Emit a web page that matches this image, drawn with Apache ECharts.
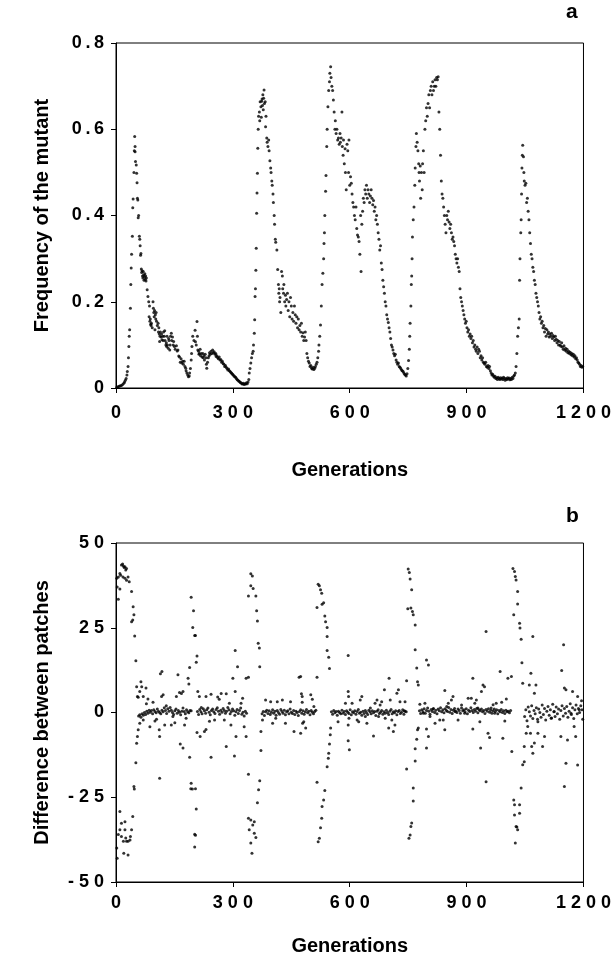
<!DOCTYPE html>
<html>
<head>
<meta charset="utf-8">
<title>Frequency of the mutant / Difference between patches</title>
<script src="https://cdn.jsdelivr.net/npm/echarts@6/dist/echarts.min.js"></script>
<style>
  html, body { margin: 0; padding: 0; background: #fff; }
  #chart { width: 614px; height: 963px; }
</style>
</head>
<body>
<div id="chart"></div>
<script>
var genTicks = [0, 300, 600, 900, 1200];
var freqTicks = [0, 0.2, 0.4, 0.6, 0.8];
var diffTicks = [-50, -25, 0, 25, 50];

// panel a: [generation, frequency]
var freqPoints = [
  [2,0.002],[5,0.003],[8,0.004],[11,0.005],[14,0.006],[17,0.008],[20,0.011],[22,0.014],[24,0.018],[26,0.022],[28,0.03],[29,0.038],
  [31,0.05],[32,0.07],[33,0.096],[34,0.12],[35,0.135],[37,0.185],[38,0.24],[39,0.278],[40,0.31],[42,0.352],[43,0.418],[44,0.438],
  [46,0.5],[47,0.55],[48,0.583],[49,0.56],[49,0.548],[50,0.525],[52,0.517],[53,0.498],[54,0.476],[55,0.44],[56,0.436],[57,0.395],
  [58,0.4],[60,0.352],[61,0.345],[62,0.33],[63,0.308],[64,0.312],[65,0.276],[66,0.268],[67,0.272],[68,0.26],[69,0.255],[70,0.27],
  [71,0.262],[72,0.25],[73,0.258],[74,0.265],[75,0.252],[76,0.26],[77,0.248],[78,0.255],[80,0.228],[82,0.212],[84,0.2],[85,0.165],
  [86,0.19],[87,0.155],[88,0.16],[89,0.148],[90,0.145],[91,0.15],[93,0.14],[95,0.2],[96,0.185],[97,0.175],[98,0.165],[99,0.18],
  [100,0.135],[101,0.17],[102,0.16],[103,0.175],[104,0.155],[106,0.145],[108,0.15],[109,0.13],[110,0.14],[111,0.125],[112,0.108],
  [113,0.12],[114,0.13],[116,0.118],[117,0.125],[118,0.112],[120,0.12],[121,0.11],[122,0.13],[124,0.12],[125,0.133],[126,0.11],
  [128,0.1],[129,0.105],[130,0.096],[131,0.12],[132,0.1],[134,0.092],[135,0.115],[136,0.11],[138,0.088],[139,0.1],[140,0.12],
  [142,0.127],[143,0.11],[145,0.118],[147,0.1],[148,0.108],[150,0.096],[152,0.09],[155,0.098],[157,0.086],[159,0.088],[161,0.074],
  [163,0.072],[165,0.06],[167,0.068],[169,0.058],[171,0.062],[173,0.055],[175,0.062],[177,0.05],[179,0.046],[180,0.04],[182,0.035],
  [184,0.03],[186,0.026],[188,0.028],[189,0.035],[191,0.045],[193,0.065],[194,0.08],[195,0.096],[197,0.12],[200,0.11],[203,0.134],
  [204,0.107],[206,0.1],[208,0.154],[209,0.12],[210,0.088],[212,0.085],[213,0.078],[214,0.08],[216,0.09],[217,0.075],[219,0.08],
  [221,0.072],[223,0.08],[224,0.07],[226,0.075],[227,0.065],[229,0.078],[231,0.07],[232,0.055],[233,0.046],[235,0.06],[237,0.07],
  [239,0.075],[240,0.082],[242,0.078],[244,0.085],[246,0.08],[248,0.088],[250,0.082],[252,0.084],[254,0.078],[256,0.08],[257,0.073],
  [259,0.075],[261,0.07],[263,0.068],[265,0.072],[267,0.065],[269,0.066],[271,0.06],[273,0.062],[275,0.057],[277,0.055],[279,0.05],
  [281,0.052],[283,0.048],[285,0.045],[287,0.042],[289,0.044],[291,0.04],[293,0.038],[295,0.036],[297,0.034],[299,0.032],[301,0.03],
  [303,0.028],[305,0.026],[307,0.025],[309,0.022],[311,0.02],[313,0.018],[315,0.016],[317,0.015],[319,0.013],[321,0.012],[323,0.01],
  [325,0.009],[327,0.011],[329,0.008],[331,0.01],[333,0.009],[335,0.012],[337,0.01],[339,0.014],[341,0.02],[342,0.035],[344,0.045],
  [346,0.058],[348,0.07],[350,0.08],[352,0.085],[353,0.1],[355,0.127],[356,0.158],[357,0.212],[358,0.23],[359,0.273],[360,0.324],
  [361,0.405],[362,0.452],[363,0.498],[364,0.556],[365,0.6],[366,0.63],[368,0.64],[369,0.62],[370,0.664],[372,0.652],[373,0.628],
  [374,0.665],[375,0.67],[376,0.655],[377,0.68],[378,0.645],[379,0.672],[380,0.691],[381,0.66],[383,0.664],[384,0.606],[385,0.63],
  [387,0.58],[388,0.57],[390,0.56],[392,0.575],[393,0.55],[395,0.527],[397,0.51],[398,0.5],[400,0.48],[401,0.47],[403,0.45],
  [404,0.43],[406,0.4],[407,0.38],[409,0.345],[410,0.338],[413,0.32],[415,0.275],[417,0.24],[418,0.22],[419,0.23],[420,0.2],
  [421,0.21],[423,0.175],[425,0.27],[427,0.26],[428,0.23],[430,0.22],[431,0.24],[433,0.2],[435,0.215],[436,0.19],[438,0.205],
  [440,0.22],[442,0.18],[444,0.2],[446,0.165],[448,0.21],[450,0.19],[452,0.16],[454,0.175],[456,0.155],[458,0.19],[460,0.17],
  [462,0.15],[464,0.165],[466,0.14],[468,0.16],[470,0.135],[472,0.145],[474,0.13],[476,0.15],[478,0.12],[480,0.128],[482,0.11],
  [484,0.118],[486,0.13],[488,0.11],[490,0.08],[492,0.07],[494,0.062],[496,0.058],[498,0.05],[500,0.052],[502,0.046],[504,0.044],
  [506,0.048],[508,0.043],[510,0.046],[512,0.05],[514,0.055],[516,0.06],[518,0.07],[520,0.085],[521,0.1],[523,0.12],[525,0.146],
  [527,0.19],[529,0.24],[531,0.266],[533,0.3],[534,0.335],[535,0.36],[536,0.4],[538,0.456],[539,0.493],[541,0.56],[542,0.6],
  [544,0.652],[546,0.69],[548,0.71],[549,0.73],[551,0.745],[552,0.72],[554,0.7],[556,0.69],[558,0.668],[560,0.64],[562,0.6],
  [563,0.62],[565,0.59],[567,0.6],[569,0.575],[571,0.58],[573,0.565],[575,0.59],[576,0.57],[578,0.58],[580,0.64],[581,0.56],
  [583,0.54],[584,0.575],[586,0.52],[588,0.555],[589,0.5],[591,0.46],[593,0.565],[595,0.55],[597,0.5],[598,0.575],[600,0.47],
  [602,0.49],[604,0.475],[606,0.45],[608,0.43],[610,0.42],[612,0.4],[614,0.39],[616,0.42],[618,0.37],[620,0.355],[622,0.35],
  [624,0.34],[626,0.31],[628,0.4],[629,0.27],[631,0.38],[633,0.41],[635,0.44],[637,0.43],[639,0.46],[641,0.45],[643,0.47],
  [645,0.44],[647,0.46],[649,0.45],[651,0.43],[653,0.445],[655,0.46],[657,0.44],[659,0.425],[661,0.435],[663,0.41],[665,0.42],
  [667,0.39],[669,0.4],[671,0.38],[673,0.36],[675,0.345],[677,0.32],[679,0.33],[681,0.29],[683,0.275],[685,0.25],[687,0.235],
  [689,0.22],[691,0.2],[693,0.19],[695,0.17],[697,0.16],[699,0.152],[701,0.14],[703,0.13],[705,0.115],[707,0.1],[709,0.095],
  [711,0.088],[713,0.08],[715,0.075],[717,0.078],[719,0.065],[721,0.06],[723,0.055],[725,0.058],[727,0.05],[729,0.048],[731,0.045],
  [733,0.042],[735,0.04],[737,0.038],[739,0.035],[741,0.032],[743,0.03],[745,0.028],[747,0.033],[749,0.045],[751,0.064],[753,0.09],
  [754,0.12],[755,0.15],[757,0.19],[758,0.24],[759,0.26],[760,0.3],[761,0.35],[763,0.39],[765,0.42],[767,0.47],[768,0.51],
  [770,0.56],[771,0.59],[773,0.57],[775,0.55],[777,0.52],[778,0.5],[779,0.48],[781,0.515],[782,0.44],[784,0.5],[786,0.46],
  [787,0.52],[789,0.55],[791,0.5],[793,0.6],[795,0.62],[797,0.65],[799,0.63],[801,0.66],[803,0.68],[805,0.65],[807,0.69],
  [809,0.7],[811,0.68],[813,0.71],[815,0.69],[817,0.7],[819,0.715],[821,0.7],[823,0.72],[825,0.715],[827,0.722],[829,0.64],
  [831,0.6],[833,0.54],[835,0.48],[837,0.45],[839,0.44],[841,0.42],[843,0.4],[845,0.38],[847,0.36],[849,0.4],[851,0.39],
  [853,0.41],[855,0.385],[857,0.37],[859,0.38],[861,0.36],[863,0.345],[865,0.35],[867,0.34],[869,0.33],[871,0.31],[873,0.3],
  [875,0.29],[877,0.3],[879,0.28],[881,0.27],[883,0.23],[885,0.21],[887,0.2],[889,0.19],[891,0.18],[893,0.17],[895,0.16],
  [897,0.15],[899,0.155],[901,0.14],[903,0.13],[905,0.135],[907,0.12],[909,0.125],[911,0.115],[913,0.12],[915,0.105],[917,0.11],
  [919,0.095],[921,0.1],[923,0.09],[925,0.085],[927,0.095],[929,0.08],[931,0.09],[933,0.085],[935,0.07],[937,0.075],[939,0.065],
  [941,0.07],[943,0.06],[945,0.058],[947,0.055],[949,0.06],[951,0.05],[953,0.048],[955,0.052],[957,0.045],[959,0.05],[961,0.04],
  [963,0.035],[965,0.03],[967,0.032],[969,0.028],[971,0.025],[973,0.027],[975,0.022],[977,0.024],[979,0.02],[981,0.025],[983,0.022],
  [985,0.02],[987,0.024],[989,0.021],[991,0.023],[993,0.02],[995,0.025],[997,0.022],[999,0.018],[1001,0.022],[1003,0.02],
  [1005,0.024],[1007,0.021],[1009,0.023],[1011,0.019],[1013,0.022],[1015,0.02],[1017,0.025],[1019,0.022],[1021,0.028],[1023,0.03],
  [1025,0.035],[1027,0.05],[1029,0.08],[1031,0.12],[1033,0.14],[1035,0.16],[1036,0.25],[1037,0.3],[1039,0.36],[1040,0.39],
  [1041,0.45],[1042,0.51],[1043,0.54],[1044,0.563],[1046,0.536],[1047,0.5],[1048,0.48],[1050,0.47],[1052,0.475],[1054,0.43],
  [1056,0.44],[1058,0.41],[1060,0.39],[1062,0.36],[1064,0.335],[1066,0.31],[1068,0.3],[1070,0.28],[1072,0.27],[1074,0.25],
  [1076,0.24],[1078,0.22],[1080,0.21],[1082,0.2],[1084,0.19],[1086,0.175],[1088,0.16],[1090,0.165],[1092,0.15],[1094,0.155],
  [1096,0.14],[1098,0.145],[1100,0.13],[1102,0.138],[1104,0.12],[1106,0.135],[1108,0.125],[1110,0.13],[1112,0.118],[1114,0.125],
  [1116,0.12],[1118,0.127],[1120,0.115],[1122,0.122],[1124,0.118],[1126,0.11],[1128,0.12],[1130,0.113],[1132,0.105],[1134,0.11],
  [1136,0.1],[1138,0.108],[1140,0.1],[1142,0.097],[1144,0.105],[1146,0.095],[1148,0.09],[1150,0.098],[1152,0.088],[1154,0.092],
  [1156,0.085],[1158,0.09],[1160,0.082],[1162,0.085],[1164,0.08],[1166,0.083],[1168,0.077],[1170,0.08],[1172,0.075],[1174,0.078],
  [1176,0.072],[1178,0.075],[1180,0.068],[1182,0.07],[1184,0.065],[1186,0.06],[1188,0.058],[1190,0.055],[1192,0.05],[1194,0.052],
  [1196,0.048],[1198,0.05]
];

// panel b: the dense band of points near zero
var diffBand = [
  [58,-1],[61,-0.7],[64,-1.4],[67,-0.4],[70,-0.8],[73,0],[76,-0.6],[79,0.4],[82,-0.2],[85,0.7],[88,0.1],[91,0.6],[94,-0.4],
  [97,0.8],[100,0.3],[103,-0.1],[106,1],[109,0.4],[112,0],[115,-0.4],[118,0.7],[121,0.2],[124,1.4],[127,0.6],[130,-0.3],
  [133,1.1],[136,0.4],[139,1.5],[142,0.7],[145,0],[148,-0.6],[151,0.5],[154,1],[157,-0.2],[160,0.6],[163,0.1],[166,-0.7],
  [169,0.4],[172,1.3],[175,0.3],[178,-0.4],[181,0.8],[184,0.2],[187,-0.1],[190,0.6],
  [209,0.3],[212,-0.6],[215,0.9],[218,0.2],[221,-0.4],[224,1.1],[227,0.5],[230,-0.2],[233,0.8],[236,1.3],[239,0.1],[242,-0.7],
  [245,0.6],[248,1],[251,0.2],[254,-0.3],[257,0.9],[260,1.4],[263,0.4],[266,-0.5],[269,0.7],[272,0.1],[275,1.2],[278,0.6],
  [281,-0.2],[284,0.4],[287,1.5],[290,0.8],[293,-0.4],[296,0.3],[299,1],[302,0.5],[305,-0.8],[308,0.2],[311,0.9],[314,-0.3],
  [317,0.6],[320,1.3],[323,-0.5],[326,0.1],[329,-1],[332,0.4],[335,-0.2],
  [375,-0.4],[378,0.3],[381,-0.9],[384,0.2],[387,0.7],[390,-0.3],[393,0.5],[396,-0.6],[399,0.1],[402,0.8],[405,-0.2],[408,0.4],
  [411,-0.8],[414,0.6],[417,0],[420,-0.5],[423,0.9],[426,0.3],[429,-0.2],[432,0.7],[435,-0.7],[438,0.2],[441,0.5],[444,-0.4],
  [447,1],[450,0.1],[453,-0.3],[456,0.6],[459,-0.6],[462,0.4],[465,0],[468,-0.9],[471,0.3],[474,0.8],[477,-0.2],[480,0.5],
  [483,-0.5],[486,0.2],[489,0.9],[492,-0.1],[495,0.4],[498,-0.7],[501,0.6],[504,0.1],[507,-0.4],[510,0.3],[513,0.7],
  [553,0.2],[556,-0.5],[559,0.6],[562,-0.1],[565,0.3],[568,-0.8],[571,0.4],[574,0],[577,-0.4],[580,0.7],[583,-0.2],[586,0.3],
  [589,-0.6],[592,0.5],[595,0.1],[598,-0.3],[601,0.8],[604,-0.7],[607,0.2],[610,-0.1],[613,0.5],[616,-0.5],[619,0.3],[622,0.9],
  [625,-0.2],[628,0.1],[631,-0.8],[634,0.4],[637,-0.3],[640,0.6],[643,0],[646,-0.6],[649,0.7],[652,0.2],[655,-0.4],[658,0.5],
  [661,-0.1],[664,0.3],[667,-0.9],[670,0.4],[673,0.8],[676,-0.3],[679,0.1],[682,0.6],[685,-0.5],[688,0.2],[691,-0.2],[694,0.7],
  [697,0],[700,-0.6],[703,0.4],[706,0.9],[709,-0.4],[712,0.2],[715,-0.1],[718,0.5],[721,-0.7],[724,0.3],[727,0.6],[730,-0.3],
  [733,0.1],[736,0.8],[739,-0.5],[742,0.4],[745,0.2],
  [779,0.5],[782,-0.3],[785,0.8],[788,0.2],[791,1.1],[794,-0.2],[797,0.6],[800,1.3],[803,0.4],[806,-0.5],[809,0.9],[812,0.3],
  [815,1.2],[818,0],[821,0.7],[824,-0.4],[827,1],[830,0.5],[833,1.4],[836,0.2],[839,0.8],[842,-0.1],[845,1.1],[848,0.6],
  [851,0.3],[854,1.5],[857,0.1],[860,0.9],[863,-0.3],[866,0.7],[869,1.2],[872,0.4],[875,0],[878,1],[881,0.6],[884,-0.2],
  [887,1.3],[890,0.5],[893,0.8],[896,0.2],[899,1.1],[902,-0.4],[905,0.7],[908,0.3],[911,1.4],[914,0.6],[917,0],[920,0.9],
  [923,0.4],[926,1.2],[929,-0.1],[932,0.8],[935,0.5],[938,1],[941,0.2],[944,0.6],[947,-0.3],[950,0.9],[953,0.4],[956,1.1],
  [959,0.1],[962,0.7],[965,-0.2],[968,0.5],[971,1],[974,0.3],[977,0.8],[980,-0.4],[983,0.6],[986,0.2],[989,0.9],[992,0],
  [995,0.5],[998,-0.3],[1001,0.7],[1004,0.2],[1007,0.4],[1010,-0.1],[1013,0.6],
  [1049,-1.2],[1052,0.8],[1055,-2.4],[1058,1.6],[1061,0.2],[1064,-1],[1067,2],[1070,-1.8],[1073,0.6],[1076,-0.4],[1079,1.4],
  [1082,-2],[1085,1],[1088,0],[1091,-1.4],[1094,2.2],[1097,-0.6],[1100,1.2],[1103,-2.2],[1106,0.4],[1109,1.8],[1112,-0.8],
  [1115,0.8],[1118,-1.6],[1121,2.4],[1124,0.2],[1127,-1.2],[1130,1.6],[1133,-0.4],[1136,1],[1139,-2],[1142,0.6],[1145,2],
  [1148,-1],[1151,1.2],[1154,-0.2],[1157,1.8],[1160,-1.4],[1163,0.4],[1166,2.6],[1169,-0.6],[1172,1.4],[1175,-1.8],[1178,0.8],
  [1181,2.2],[1184,-0.4],[1187,1.2],[1190,0],[1193,2],[1196,0.8]
];

// panel b: scattered points around the band
var diffScatter = [
  [61,-3.2],[70,-2.2],[78,2.6],[82,4],[87,-4.2],[95,3],[100,-2.5],[104,-2],[111,-5.1],[112,-7.1],[114,11.4],[118,12.1],
  [112,-19.4],[117,4.7],[121,5.2],[125,-3.7],[129,2],[142,-3.7],[146,-1.2],[151,-3],[155,4.7],[159,11.1],[163,5.9],[165,-9.3],
  [172,-10.5],[168,5.6],[172,6.2],[176,-3.7],[180,-1.7],[185,10.1],[187,8.4],[189,13.3],[189,-13.2],
  [219,1.5],[227,-5.6],[231,4.7],[231,-5],[240,-2.6],[244,5.4],[244,-13.2],[253,-2.2],[261,4.6],[265,3.9],[270,5.6],[278,-2.2],
  [283,-10],[283,5.5],[291,2.7],[295,-3.7],[300,10.1],[304,-12.8],[306,18.3],[308,-7.1],[312,13.5],[306,6.2],[321,2.7],
  [325,4.2],[329,-4.2],[334,-7.1],[334,10.1],
  [376,-2.2],[384,3.7],[397,3.2],[402,-3.2],[410,-1.7],[414,3.2],[427,3.7],[435,-3.2],[448,3.2],[457,-5.6],[470,10.4],
  [474,-6.1],[478,4.7],[482,-2.7],[474,10.6],[476,5.5],[478,3],[479,-3.2],[487,-4.6],[500,5.2],[504,3.9],[508,1.8],
  [570,-2.7],[589,2.7],[596,6.2],[596,16.8],[597,4.7],[598,-1.7],[596,-3.7],[596,-8.3],[599,-11],[606,2.7],[619,-2.2],
  [623,-2.7],[627,3.7],[631,4.7],[640,-1.2],[644,-3.2],[653,1.3],[661,-6.9],[665,2.7],[670,3.7],[674,-1.2],[678,2.2],
  [682,3.2],[689,6.7],[691,-1.7],[700,-4.6],[701,10.1],[704,3.7],[708,-2.2],[712,-5.6],[716,-3.7],[721,5.7],[725,6.7],
  [729,3.2],[740,0.5],[742,3.2],
  [780,2.4],[789,-0.2],[793,2.7],[797,15.5],[802,14],[797,-4.9],[797,-10.5],[802,-7.1],[806,-1.2],[814,1],[819,-3.2],
  [831,-2.2],[840,-2.2],[844,6.5],[844,-5.1],[849,1.8],[853,2.7],[861,3.7],[865,4.7],[870,0.3],[878,-2.2],[887,2.2],
  [895,-0.2],[904,4.2],[912,4.2],[916,-4.9],[916,10.1],[921,2.7],[925,3.7],[929,1.3],[934,-2.7],[936,-10.5],[938,6.2],
  [942,8.1],[946,7.6],[950,23.9],[950,-20.4],[955,-6.1],[959,-7.4],[963,1.3],[968,2.3],[972,-0.2],[976,2.7],
  [986,12.1],[993,-7.6],[1006,10.1],[990,3],[998,-2.5],[1002,4],
  [1065,11.6],[1070,22.4],[1061,8.1],[1078,8.1],[1074,5.7],[1083,-2.7],[1064,-6.1],[1067,-10],[1074,-9],[1070,-12],
  [1083,-6.1],[1095,-10],[1100,-7.1],[1117,-1.7],[1125,0.3],[1142,-7.1],[1144,12.4],[1149,20],[1151,7.2],[1155,6.7],
  [1151,-21.8],[1155,-15],[1159,-8.1],[1168,-0.2],[1172,6.2],[1176,-4.1],[1180,-7.1],[1185,-15.5],[1185,4.7],[1189,0.8],
  [1195,3.5],[1198,-2]
];

// panel b: the bursts where the two patches diverge
var diffSpikes = [
  [2,39.6],[6,40],[10,41],[14,43.5],[17,43.8],[19,43.2],[21,42.8],[23,43],[25,42],[27,42.5],[12,40.5],[18,40],[23,39.6],
  [27,39],[31,40],[34,38.6],[10,36.4],[6,33.4],[3,37],[40,35.7],[44,31.2],[46,28.8],[40,26.8],[43,27.3],[48,22.6],[51,15.3],
  [53,7.6],[55,4.7],[57,4.5],[61,6.2],[64,9.1],[66,7.6],[70,4.7],[77,7.2],
  [2,-40],[3,-43],[10,-29.2],[10,-34.6],[14,-36.6],[19,-38],[14,-32.7],[23,-32.2],[23,-34.6],[27,-38],[31,-38],[36,-37.6],
  [20,-41.5],[31,-42],[37,-36.6],[40,-34.6],[43,-30.7],[46,-21.8],[47,-22.6],[51,-14.8],[53,-9.1],[55,-7.1],[57,-5.1],
  [6,-36],[25,-37],
  [193,-20.9],[196,-22.6],[192,-22.5],[197,25.1],[193,34],[199,30],[202,22.7],[204,22.7],[206,14.8],[208,16.7],[202,-35.9],
  [204,-36.2],[202,-39.7],[206,-28.5],[204,-22.5],[193,0.5],[208,-5.9],[210,6.2],[214,4.7],[216,-7.1],
  [340,34.4],[346,40.9],[350,40.3],[346,37.4],[352,36.6],[359,34.4],[361,30],[363,27],[365,20.4],[368,19],[369,13.5],
  [340,10.4],[340,-18.2],[340,-31.2],[346,-31.7],[351,-33.2],[355,-32.2],[342,-34.6],[346,-38.5],[349,-41.5],[355,-35.6],
  [359,-36.9],[363,-26.6],[366,-22.8],[369,-20.1],[372,-11.2],[372,-5.6],
  [516,31],[519,37.8],[522,37.4],[525,36.2],[528,35.2],[529,31.9],[533,32.4],[536,28.5],[538,26.8],[542,25.1],[542,22.4],
  [542,18.3],[546,16.3],[548,13],[516,10.4],[516,-20.6],[519,-38.1],[522,-37.1],[525,-34],[528,-31.2],[529,-27.7],
  [533,-25.8],[536,-23],[542,-16],[545,-13.5],[546,-12],[548,-9.3],[550,-6.6],[551,-4.6],
  [746,9.4],[749,30.6],[750,42.3],[753,41.3],[755,39.4],[759,36.2],[757,30.8],[761,29.8],[763,28.8],[768,25.8],[768,18.5],
  [772,13.1],[774,9.1],[776,8.1],[746,-16.7],[752,-37.1],[755,-36.1],[757,-33.6],[759,-32.6],[763,-26.1],[763,-22.3],
  [768,-14.3],[768,-10.7],[772,-7.9],[774,-5.1],[776,-4.6],
  [1019,42.5],[1023,41.6],[1025,40.1],[1027,39.1],[1031,35.7],[1031,32],[1021,28.8],[1036,26.3],[1037,24.9],[1040,21.6],
  [1042,14.7],[1044,8.6],[1015,10.6],[1016,-11.5],[1040,-22.3],[1021,-25.8],[1023,-27.2],[1036,-27.2],[1023,-30.2],
  [1027,-33.6],[1031,-34.6],[1029,-33.8],[1025,-38.5],[1036,-29.7],[1044,-15.4],[1048,-10],[1048,-14.5],[1053,-6.1],[1057,-4.1]
];

var FONT = '"Liberation Sans", Arial, sans-serif';

// the original prints digits with wide letter spacing
function spaced(s, sep) {
  return String(s).split('').join(sep || ' ');
}

function xAxisFor(gridIndex, labelMargin, nameGap) {
  return {
    gridIndex: gridIndex,
    type: 'value',
    min: genTicks[0],
    max: genTicks[genTicks.length - 1],
    interval: genTicks[1] - genTicks[0],
    name: 'Generations',
    nameLocation: 'middle',
    nameGap: nameGap,
    nameTextStyle: { color: '#000', fontFamily: FONT, fontWeight: 'bold', fontSize: 20 },
    axisLine: { show: true, onZero: false, lineStyle: { color: '#000', width: 1 } },
    axisTick: { show: true, inside: false, length: 5, lineStyle: { color: '#000' } },
    axisLabel: {
      color: '#000', fontFamily: FONT, fontWeight: 'bold', fontSize: 18, margin: labelMargin,
      formatter: function (v) { return spaced(v); }
    },
    splitLine: { show: false }
  };
}

function yAxisFor(gridIndex, ticks, name, fmt) {
  return {
    gridIndex: gridIndex,
    type: 'value',
    min: ticks[0],
    max: ticks[ticks.length - 1],
    interval: ticks[1] - ticks[0],
    name: name,
    nameLocation: 'middle',
    nameRotate: 90,
    nameGap: 64,
    nameTextStyle: { color: '#000', fontFamily: FONT, fontWeight: 'bold', fontSize: 20 },
    axisLine: { show: true, onZero: false, lineStyle: { color: '#000', width: 1 } },
    axisTick: { show: true, inside: false, length: 5, lineStyle: { color: '#000' } },
    axisLabel: {
      color: '#000', fontFamily: FONT, fontWeight: 'bold', fontSize: 18, margin: 12,
      formatter: fmt
    },
    splitLine: { show: false }
  };
}

var chart = echarts.init(document.getElementById('chart'), null, { renderer: 'canvas' });

chart.setOption({
  animation: false,
  backgroundColor: '#fff',
  grid: [
    { left: 116, right: 28, top: 43, height: 345, show: true, borderColor: '#000', borderWidth: 1 },
    { left: 116, right: 28, top: 543, height: 339, show: true, borderColor: '#000', borderWidth: 1 }
  ],
  xAxis: [
    xAxisFor(0, 16, 72),
    xAxisFor(1, 12, 54)
  ],
  yAxis: [
    yAxisFor(0, freqTicks, 'Frequency of the mutant', function (v) {
      return v === 0 ? '0' : spaced(v.toFixed(1), '\u2009');
    }),
    yAxisFor(1, diffTicks, 'Difference between patches', function (v) {
      return spaced(v);
    })
  ],
  graphic: [
    { type: 'text', left: 566, top: 2, style: { text: 'a', font: 'bold 21px ' + FONT, fill: '#000' } },
    { type: 'text', left: 566, top: 506, style: { text: 'b', font: 'bold 21px ' + FONT, fill: '#000' } }
  ],
  series: [
    {
      type: 'scatter',
      xAxisIndex: 0,
      yAxisIndex: 0,
      symbol: 'circle',
      symbolSize: 3,
      itemStyle: { color: '#000' },
      silent: true,
      data: freqPoints
    },
    {
      type: 'scatter',
      xAxisIndex: 1,
      yAxisIndex: 1,
      symbol: 'circle',
      symbolSize: 3,
      itemStyle: { color: '#000' },
      silent: true,
      data: diffBand.concat(diffScatter, diffSpikes)
    }
  ]
});
</script>
</body>
</html>
